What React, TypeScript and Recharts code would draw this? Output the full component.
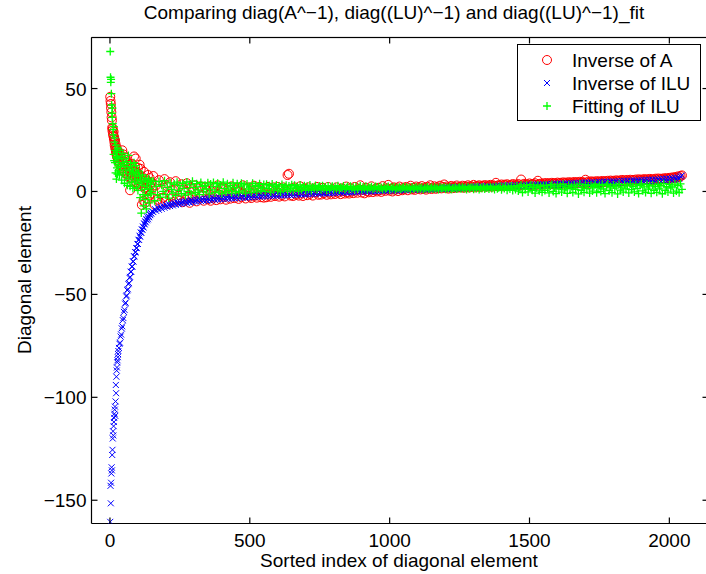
import { ScatterChart, Scatter, XAxis, YAxis, ReferenceLine } from "recharts"

// sorted index of the diagonal element (sampled)
const sortedIndex = [
  1, 2, 3, 4, 5, 6, 7, 8, 9, 10, 11, 12, 13, 14, 15, 16, 17, 18, 19, 20, 21, 22, 23, 24, 25, 26, 27, 28, 29, 30,
  32, 34, 36, 38, 40, 42, 44, 46, 48, 50, 52, 54, 56, 58, 60, 62, 64, 66, 68, 70,
  72, 74, 76, 78, 80, 82, 84, 86, 88, 90, 92, 94, 96, 98, 100, 102, 104, 106, 108, 110,
  112, 114, 116, 118, 120, 122, 124, 126, 128, 130, 132, 134, 136, 138, 140, 142, 144, 146, 148, 150,
  155, 160, 165, 170, 175, 180, 185, 190, 195, 200, 205, 210, 215, 220, 225, 230, 235, 240, 245, 250,
  255, 260, 265, 270, 275, 280, 285, 290, 295, 300, 305, 310, 315, 320, 325, 330, 335, 340, 345, 350,
  355, 360, 365, 370, 375, 380, 385, 390, 395, 400, 405, 410, 415, 420, 425, 430, 435, 440, 445, 450,
  455, 460, 465, 470, 475, 480, 485, 490, 495, 500, 505, 510, 515, 520, 525, 530, 535, 540, 545, 550,
  555, 560, 565, 570, 575, 580, 585, 590, 595, 600, 605, 610, 615, 620, 625, 630, 635, 640, 645, 650,
  655, 660, 665, 670, 675, 680, 685, 690, 695, 700, 705, 710, 715, 720, 725, 730, 735, 740, 745, 750,
  755, 760, 765, 770, 775, 780, 785, 790, 795, 800, 805, 810, 815, 820, 825, 830, 835, 840, 845, 850,
  855, 860, 865, 870, 875, 880, 885, 890, 895, 900, 905, 910, 915, 920, 925, 930, 935, 940, 945, 950,
  955, 960, 965, 970, 975, 980, 985, 990, 995, 1000, 1005, 1010, 1015, 1020, 1025, 1030, 1035, 1040, 1045, 1050,
  1055, 1060, 1065, 1070, 1075, 1080, 1085, 1090, 1095, 1100, 1105, 1110, 1115, 1120, 1125, 1130, 1135, 1140, 1145, 1150,
  1155, 1160, 1165, 1170, 1175, 1180, 1185, 1190, 1195, 1200, 1205, 1210, 1215, 1220, 1225, 1230, 1235, 1240, 1245, 1250,
  1255, 1260, 1265, 1270, 1275, 1280, 1285, 1290, 1295, 1300, 1305, 1310, 1315, 1320, 1325, 1330, 1335, 1340, 1345, 1350,
  1355, 1360, 1365, 1370, 1375, 1380, 1385, 1390, 1395, 1400, 1405, 1410, 1415, 1420, 1425, 1430, 1435, 1440, 1445, 1450,
  1455, 1460, 1465, 1470, 1475, 1480, 1485, 1490, 1495, 1500, 1505, 1510, 1515, 1520, 1525, 1530, 1535, 1540, 1545, 1550,
  1555, 1560, 1565, 1570, 1575, 1580, 1585, 1590, 1595, 1600, 1605, 1610, 1615, 1620, 1625, 1630, 1635, 1640, 1645, 1650,
  1655, 1660, 1665, 1670, 1675, 1680, 1685, 1690, 1695, 1700, 1705, 1710, 1715, 1720, 1725, 1730, 1735, 1740, 1745, 1750,
  1755, 1760, 1765, 1770, 1775, 1780, 1785, 1790, 1795, 1800, 1805, 1810, 1815, 1820, 1825, 1830, 1835, 1840, 1845, 1850,
  1855, 1860, 1865, 1870, 1875, 1880, 1885, 1890, 1895, 1900, 1905, 1910, 1915, 1920, 1925, 1930, 1935, 1940, 1945, 1950,
  1955, 1960, 1965, 1970, 1975, 1980, 1985, 1990, 1995, 2000, 2005, 2010, 2015, 2020, 2025, 2030, 2035, 2040, 2045,
]

// diag(A^-1)
const inverseA = [
  46, 44, 42.5, 40.5, 38.5, 36, 34.5, 31, 29.5, 30.5, 28, 27, 29, 25.5, 26.5, 24, 22.5, 25, 21, 23, 20, 18.5, 21.5, 19, 17, 20, 16.5, 18, 15, 17.5,
  15, 19, 13, 17.5, 11.5, 16, 20, 12.5, 18, 10, 14.5, 9, 16.5, 12, 8.5, 14, 10.5, 7, 13, 9.5,
  0.6, 11, 6.5, 13.5, 8, 5, 10.5, 17, 7, 12, 16, 4.5, 9, 6, 11.5, 3.5, 8, 13, 5, 11,
  2.5, -6.5, 7, 4, -4.5, 9.5, 1.5, -5.5, 6, 2, -3.5, 5, 8, 0.5, -2, 6.5, 3, -1, 4.5, 1.5,
  7.5, -6.5, 3.0, -4.0, 5.5, -5.5, 1.0, -3.0, 6.0, -4.8, 2.5, -6.0, 4.5, -2.0, 0.5, -5.0, 5.0, -3.5, 2.0, -4.5,
  3.5, -5.2, 1.0, -4.0, 4.0, -2.5, -5.5, 2.0, -3.0, 0.0, 3.0, -4.8, 1.5, -3.5, 2.5, -2.0, -4.5, 2.0, 0.5, -3.8,
  2.5, -4.5, 0.5, -3.0, 2.0, -4.2, 3.0, -1.5, -3.8, 1.5, 2.0, -2.5, -4.0, 0.5, 2.0, -3.5, 2.5, -1.0, -3.2, 1.0,
  2.0, -3.6, 0.0, -2.8, 3.0, -1.5, -3.4, 1.5, 2.0, -2.5, -3.2, 0.5, 2.8, -2.0, -3.0, 1.0, 2.2, -2.8, 0.0, -3.0,
  1.5, -2.8, 2.2, -1.5, -2.6, 0.5, 2.0, -2.2, -0.5, 2.2, -2.5, 1.0, -1.8, 2.0, -2.4, 0.0, 8.0, 8.6, -2.0, 1.5,
  -2.2, 2.0, -1.5, 0.5, -2.0, 2.5, -1.0, -2.2, 1.5, 0.0, -1.8, 2.0, -1.2, 0.5, -2.0, 1.0, -0.5, 2.2, -1.6, 0.2,
  -1.5, 1.8, -0.8, 0.5, -1.6, 2.2, -0.5, -1.4, 1.0, 0.0, -1.2, 2.0, -0.6, 0.8, -1.3, 1.5, 0.2, -1.0, 2.4, -0.4,
  -1.0, 1.5, 0.0, -0.8, 2.2, 0.5, -0.6, 1.2, 3.0, -0.5, 0.8, -0.9, 1.8, 0.2, -0.4, 1.0, 2.5, -0.3, 0.6, 1.4,
  0.0, 1.8, 0.6, -0.2, 2.6, 1.0, 0.3, 1.5, 3.2, 0.4, 1.2, 0.0, 2.0, 0.8, 1.6, 0.2, 2.4, 1.0, 0.6, 1.9,
  1.2, 2.2, 0.6, 1.6, 2.8, 1.0, 1.8, 0.8, 2.4, 1.4, 2.0, 1.0, 2.6, 1.3, 1.9, 0.9, 2.3, 1.5, 3.0, 1.2,
  1.8, 2.5, 1.3, 2.1, 1.6, 2.8, 1.5, 2.2, 3.4, 1.7, 2.4, 1.4, 2.0, 2.7, 1.6, 2.3, 1.8, 2.9, 1.9, 2.2,
  2.0, 2.8, 1.8, 2.5, 2.2, 3.0, 1.9, 2.6, 2.3, 3.2, 2.0, 2.7, 2.4, 3.0, 2.1, 2.8, 2.5, 3.1, 2.3, 2.9,
  2.5, 3.2, 2.3, 3.0, 2.7, 4.2, 2.6, 3.1, 2.8, 3.4, 2.5, 3.3, 2.9, 3.5, 2.7, 3.2, 3.0, 3.6, 2.8, 3.4,
  3.0, 3.6, 2.9, 5.8, 3.1, 3.7, 3.0, 3.5, 3.3, 3.9, 3.1, 3.6, 3.4, 4.0, 3.2, 5.2, 3.5, 3.8, 3.3, 4.0,
  3.4, 4.1, 3.6, 4.0, 3.5, 4.2, 3.7, 4.1, 3.6, 4.3, 3.8, 4.2, 3.7, 4.4, 3.9, 4.3, 3.8, 4.5, 4.0, 4.4,
  3.9, 4.6, 4.1, 4.5, 4.0, 4.7, 4.2, 4.6, 4.1, 5.7, 4.3, 4.8, 4.2, 4.9, 4.4, 4.8, 4.3, 5.0, 4.5, 4.9,
  4.5, 5.1, 4.6, 5.0, 4.7, 5.2, 4.6, 5.3, 4.8, 5.2, 4.7, 5.4, 4.9, 5.3, 4.8, 5.6, 5.0, 5.5, 4.9, 5.6,
  5.1, 5.7, 5.2, 5.6, 5.3, 5.8, 5.2, 5.9, 5.4, 5.8, 5.3, 6.0, 5.5, 5.9, 5.4, 6.1, 5.6, 6.0, 5.5, 6.2,
  5.7, 6.3, 5.8, 6.2, 5.9, 6.4, 6.0, 6.5, 6.1, 6.6, 6.2, 6.8, 6.5, 7.0, 6.6, 7.3, 6.9, 7.5, 7.8,
]

// diag((LU)^-1)
const inverseILU = [
  -160.5, -143, -151.5, -141.5, -137, -134, -135.5, -128, -125.5, -120, -116.5, -118.5, -114, -112, -110, -108, -106, -104.5, -109, -102, -94, -98, -90, -87, -85.5, -83, -82, -80.5, -79, -77.5,
  -76, -74, -73.5, -70.5, -69.5, -66.5, -65.5, -62.5, -61.5, -58.5, -57.5, -54.5, -54, -51, -50.5, -48, -47.5, -45, -44.5, -42,
  -41.5, -39, -39, -36.5, -36.5, -34, -34, -31.5, -31.5, -29.5, -29.5, -27.5, -27.5, -25.5, -25.5, -23.5, -23.5, -21.5, -22, -20,
  -20, -18.5, -18.5, -17, -17.5, -15.5, -16, -14.5, -15, -13.5, -14, -12.5, -13.5, -12, -12.5, -11, -11.5, -10.4, -10.8, -9.6,
  -10.0, -8.5, -9.4, -7.9, -8.9, -7.4, -8.4, -6.9, -7.9, -6.5, -7.5, -6.1, -7.1, -5.8, -6.8, -5.5, -6.5, -5.2, -6.2, -5.0,
  -6.0, -4.8, -5.8, -4.6, -5.6, -4.4, -5.4, -4.2, -5.2, -4.0, -5.0, -3.9, -4.8, -3.7, -4.6, -3.6, -4.5, -3.5, -4.4, -3.3,
  -4.3, -3.2, -4.2, -3.1, -4.0, -3.0, -3.9, -2.9, -3.8, -2.8, -3.7, -2.7, -3.6, -2.6, -3.5, -2.5, -3.4, -2.4, -3.3, -2.3,
  -3.2, -2.3, -3.1, -2.2, -3.0, -2.1, -3.0, -2.0, -2.9, -1.9, -2.8, -1.9, -2.7, -1.8, -2.7, -1.7, -2.6, -1.6, -2.5, -1.6,
  -2.4, -1.6, -2.3, -1.6, -2.2, -1.5, -2.2, -1.4, -2.1, -1.4, -2.0, -1.3, -2.0, -1.2, -1.9, -1.2, -1.8, -1.1, -1.8, -1.0,
  -1.7, -1.1, -1.7, -1.0, -1.6, -1.0, -1.5, -0.9, -1.5, -0.8, -1.4, -0.8, -1.3, -0.7, -1.3, -0.6, -1.2, -0.6, -1.1, -0.5,
  -1.1, -0.6, -1.0, -0.5, -1.0, -0.4, -0.9, -0.4, -0.8, -0.3, -0.8, -0.2, -0.7, -0.2, -0.6, -0.1, -0.6, 0.0, -0.5, 0.0,
  -0.5, 0.1, -0.4, 0.1, -0.3, 0.2, -0.3, 0.3, -0.2, 0.3, -0.1, 0.4, -0.1, 0.4, 0.0, 0.5, 0.0, 0.5, 0.1, 0.6,
  0.1, 0.6, 0.2, 0.7, 0.2, 0.7, 0.3, 0.8, 0.3, 0.8, 0.4, 0.9, 0.4, 0.9, 0.5, 1.0, 0.5, 1.0, 0.6, 1.1,
  0.6, 1.1, 0.7, 1.2, 0.7, 1.2, 0.8, 1.3, 0.8, 1.3, 0.9, 1.4, 0.9, 1.4, 1.0, 1.5, 1.0, 1.5, 1.1, 1.6,
  1.0, 1.6, 1.1, 1.7, 1.1, 1.7, 1.2, 1.8, 1.2, 1.8, 1.3, 1.9, 1.3, 1.9, 1.4, 2.0, 1.4, 2.0, 1.5, 2.1,
  1.5, 2.1, 1.6, 2.2, 1.6, 2.2, 1.7, 2.3, 1.7, 2.3, 1.8, 2.4, 1.8, 2.4, 1.9, 2.5, 1.9, 2.5, 2.0, 2.6,
  1.9, 2.6, 2.0, 2.7, 2.0, 2.7, 2.1, 2.8, 2.1, 2.8, 2.2, 2.9, 2.2, 2.9, 2.3, 3.0, 2.3, 3.0, 2.4, 3.1,
  2.3, 3.1, 2.4, 3.2, 2.4, 3.2, 2.5, 3.3, 2.5, 3.3, 2.6, 3.4, 2.6, 3.4, 2.7, 3.5, 2.7, 3.5, 2.8, 3.6,
  2.8, 3.6, 2.9, 3.7, 2.9, 3.7, 3.0, 3.8, 3.0, 3.8, 3.1, 3.9, 3.1, 3.9, 3.2, 4.0, 3.2, 4.0, 3.3, 4.1,
  3.3, 4.1, 3.4, 4.2, 3.4, 4.3, 3.5, 4.3, 3.5, 4.4, 3.6, 4.4, 3.7, 4.5, 3.7, 4.5, 3.8, 4.6, 3.8, 4.7,
  3.9, 4.7, 4.0, 4.8, 4.0, 4.8, 4.1, 4.9, 4.2, 5.0, 4.2, 5.0, 4.3, 5.1, 4.3, 5.1, 4.4, 5.2, 4.5, 5.3,
  4.5, 5.3, 4.6, 5.4, 4.6, 5.4, 4.7, 5.5, 4.8, 5.6, 4.8, 5.6, 4.9, 5.7, 5.0, 5.8, 5.0, 5.8, 5.1, 5.9,
  5.2, 6.0, 5.3, 6.1, 5.3, 6.2, 5.4, 6.3, 5.5, 6.4, 5.6, 6.5, 5.7, 6.7, 5.9, 6.9, 6.2, 7.3, 7.8,
]

// diag((LU)^-1)_fit
const fittingILU = [
  68, 55.5, 53, 54.5, 47.5, 42, 38, 36, 40.5, 33, 30, 27.5, 18, 31.5, 15, 24, 26, 14, 20, 9, 22.5, 16.5, 6, 19, 11.5, 17, 8.5, 21, 13, 10,
  16, 8, 20, 12, 17, 5.5, 14, 18.5, 9, 13, 4, 16, 10.5, 7, 14.5, 3, 12, 17.5, 6, 10,
  2.5, 13.5, 8.5, 4.5, 11, 1.5, 9.5, 14, 5, 7.5, 12.5, 2, 9, 6, 0.5, 10, 4, 7.5, -3, 5.5,
  -10.5, 3, 8, -1.5, -7, 5, 1, -4, 6.5, -8.5, 2.5, 4.5, -2, 6, -5.5, 1.5, 3.5, -1, 5, 0,
  5.0, -4.5, 2.5, -1.5, 4.8, -2.8, 3.0, 0.0, 5.2, -1.5, 2.0, -3.2, 4.2, 1.0, -0.8, 3.5, -2.0, 4.5, 0.5, 2.8,
  -1.0, 4.0, 1.5, -1.8, 4.6, 0.0, 3.2, -1.2, 5.0, 2.0, -0.5, 3.8, 0.8, -1.5, 4.4, 2.5, -0.2, 3.0, 1.2, 4.2,
  -1.2, 3.6, 0.8, 4.4, -0.6, 2.4, 4.0, 0.2, 3.2, -1.0, 4.5, 1.5, -0.3, 3.8, 0.6, 2.8, -0.8, 4.2, 1.8, 0.0,
  3.8, -0.5, 2.6, 4.0, 0.3, 3.2, -0.8, 3.6, 1.2, 2.2, -0.4, 4.0, 0.8, 3.0, -0.2, 2.4, 3.8, 0.5, 1.6, 3.4,
  0.0, 3.5, 1.4, 2.8, -0.3, 3.6, 0.8, 2.2, 3.2, 0.4, 2.6, -0.2, 3.4, 1.0, 2.0, 3.0, 0.2, 2.7, 1.2, 3.3,
  0.4, 3.0, 1.6, 2.4, 0.2, 3.2, 1.0, 2.0, 2.8, 0.6, 2.5, 1.2, 3.1, 0.5, 2.2, 1.5, 2.9, 0.8, 2.0, 2.6,
  0.8, 2.8, 1.4, 2.2, 0.6, 2.7, 1.1, 1.9, 2.5, 0.9, 2.3, 1.3, 2.8, 0.7, 2.0, 1.6, 2.6, 1.0, 1.8, 2.4,
  1.0, 2.5, 1.5, 2.1, 0.8, 2.4, 1.2, 1.9, 2.6, 1.0, 2.2, 1.4, 2.5, 0.9, 2.0, 1.6, 2.3, 1.1, 1.8, 2.4,
  1.1, 2.2, 1.5, 1.9, 0.9, 2.3, 1.3, 1.8, 2.4, 1.0, 2.0, 1.4, 2.2, 1.0, 1.8, 1.5, 2.1, 1.2, 1.7, 2.2,
  1.2, 2.0, 1.5, 1.8, 1.0, 2.2, 1.3, 1.7, 2.1, 1.1, 1.9, 1.4, 2.0, 1.0, 1.8, 1.5, 2.2, 1.2, 1.6, 2.0,
  1.2, 2.1, 1.5, 1.8, 1.0, 2.2, 1.4, 1.7, 2.0, 1.1, 1.9, 1.4, 2.2, 1.0, 1.7, 1.5, 2.1, 1.2, 1.8, 2.0,
  1.3, 2.2, 1.5, 1.9, 1.0, 2.3, 1.4, 1.8, 2.1, 1.1, 2.0, 1.5, 2.3, 1.0, 1.8, 1.4, 2.2, 1.2, 1.7, 2.1,
  1.2, 2.3, 1.4, 2.0, 0.9, 2.4, 1.3, 1.8, 2.5, 0.8, 2.2, 1.4, 2.6, 0.6, 2.0, 1.2, 2.7, 0.5, 2.2, 1.0,
  2.8, 0.2, 2.2, 3.2, -0.5, 2.5, 1.0, 3.0, -0.2, 2.0, 3.3, 0.6, 2.6, -0.8, 1.8, 3.1, 0.3, 2.4, -0.4, 2.9,
  0.5, 3.0, 1.6, -0.7, 2.7, 3.4, 0.0, 2.2, -1.0, 3.2, 1.2, 2.6, -0.3, 3.5, 0.8, 2.0, -0.9, 3.0, 1.5, 2.4,
  -0.5, 3.2, 1.0, 2.5, -1.2, 3.6, 0.6, 2.2, -0.4, 3.3, 1.4, 2.8, -0.8, 3.0, 0.2, 2.4, 3.5, -0.6, 1.8, 2.9,
  0.0, 3.4, 1.2, -1.0, 2.8, 3.6, 0.4, 2.3, -0.6, 3.2, 1.6, 2.6, -1.2, 3.5, 0.7, 2.1, -0.3, 3.3, 1.3, 2.7,
  -0.7, 3.6, 0.9, 2.5, -0.2, 3.3, 1.5, -1.0, 2.9, 3.7, 0.3, 2.2, -0.5, 3.4, 1.1, 2.7, -0.9, 3.1, 0.6, 2.4,
  -0.4, 3.5, 1.3, 2.8, -1.1, 3.8, 0.5, 2.3, -0.3, 3.4, 1.7, 2.6, -0.8, 3.6, 0.2, 2.9, -0.6, 3.7, 1.0,
]

const xTicks = [0, 500, 1000, 1500, 2000]
const yTicks = [-150, -100, -50, 0, 50]
const xDomain = [-66, 2140]
const yDomain = [-161.3, 74.8]

// plot box in pixels (chart margins + axis sizes), half-pixel aligned for crisp lines
const BOX = { left: 91.5, right: 708.5, top: 37.5, bottom: 523.5 }
const CHART_W = 720
const CHART_H = 574

const FONT = "'Liberation Sans', Arial, Helvetica, sans-serif"
const FS = 19
const FRAME = 1.2

const toPoints = (values: number[]) => sortedIndex.map((x, i) => ({ x, y: values[i] }))

const fmt = (v: number) => (v < 0 ? `\u2212${Math.abs(v)}` : `${v}`)

// only used for the box ticks on the top / right edges of the overlay
const px = (v: number) => BOX.left + ((v - xDomain[0]) / (xDomain[1] - xDomain[0])) * (BOX.right - BOX.left)
const py = (v: number) => BOX.top + ((yDomain[1] - v) / (yDomain[1] - yDomain[0])) * (BOX.bottom - BOX.top)

const RedCircle = ({ cx, cy }: any) => <circle cx={cx} cy={cy} r={4.5} fill="none" stroke="#ff0000" strokeWidth={1} />
const BlueCross = ({ cx, cy }: any) => (
  <path d={`M${cx - 3},${cy - 3}L${cx + 3},${cy + 3}M${cx - 3},${cy + 3}L${cx + 3},${cy - 3}`} stroke="#0000ff" strokeWidth={1} />
)
const GreenPlus = ({ cx, cy }: any) => (
  <path d={`M${cx - 4},${cy}L${cx + 4},${cy}M${cx},${cy - 4}L${cx},${cy + 4}`} stroke="#00ff00" strokeWidth={1.3} />
)

// matlab style ticks point into the axes box
const BottomTick = ({ x, y, payload }: any) => (
  <g>
    <line x1={x} y1={y} x2={x} y2={y - 6} stroke="#000" strokeWidth={FRAME} />
    <text x={x} y={y + 23} textAnchor="middle" fontSize={FS} fontFamily={FONT} fill="#000">{fmt(payload.value)}</text>
  </g>
)
const LeftTick = ({ x, y, payload }: any) => (
  <g>
    <line x1={x} y1={y} x2={x + 6} y2={y} stroke="#000" strokeWidth={FRAME} />
    <text x={x - 5} y={y + 7} textAnchor="end" fontSize={FS} fontFamily={FONT} fill="#000">{fmt(payload.value)}</text>
  </g>
)

export default function App() {
  const axisLine = { stroke: "#000", strokeWidth: FRAME }
  return (
    <div style={{ position: "absolute", left: 0, top: 0, width: 706, height: 574, overflow: "hidden", background: "#fff" }}>
      <ScatterChart
        width={CHART_W}
        height={CHART_H}
        margin={{ top: BOX.top, right: CHART_W - BOX.right, bottom: 0, left: 0.5 }}
      >
        <XAxis
          type="number"
          dataKey="x"
          domain={xDomain}
          ticks={xTicks}
          allowDataOverflow
          height={CHART_H - BOX.bottom}
          tickSize={0}
          tickMargin={0}
          tickLine={false}
          axisLine={axisLine}
          tick={<BottomTick />}
        />
        <YAxis
          type="number"
          dataKey="y"
          domain={yDomain}
          ticks={yTicks}
          allowDataOverflow
          width={91}
          tickSize={0}
          tickMargin={0}
          tickLine={false}
          axisLine={axisLine}
          tick={<LeftTick />}
        />
        <Scatter data={toPoints(inverseA)} shape={RedCircle} isAnimationActive={false} />
        <Scatter data={toPoints(inverseILU)} shape={BlueCross} isAnimationActive={false} />
        <Scatter data={toPoints(fittingILU)} shape={GreenPlus} isAnimationActive={false} />
        {/* top and right edges of the axes box */}
        <ReferenceLine y={yDomain[1]} stroke="#000" strokeWidth={FRAME} ifOverflow="visible" />
        <ReferenceLine x={xDomain[1]} stroke="#000" strokeWidth={FRAME} ifOverflow="visible" />
      </ScatterChart>
      <svg width={706} height={574} style={{ position: "absolute", left: 0, top: 0, pointerEvents: "none" }} fontFamily={FONT} fontSize={FS}>
        <rect x={BOX.left} y={BOX.top - 0.6} width={BOX.right - BOX.left} height={1.2} fill="#000" />
        {xTicks.map((t) => (
          <rect key={`tx${t}`} x={px(t) - 0.6} y={BOX.top} width={1.2} height={6} fill="#000" />
        ))}
        {yTicks.map((t) => (
          <rect key={`ty${t}`} x={BOX.right - 6} y={py(t) - 0.6} width={6} height={1.2} fill="#000" />
        ))}
        <text x={394} y={19} textAnchor="middle" fill="#000">Comparing diag(A^{"\u2212"}1), diag((LU)^{"\u2212"}1) and diag((LU)^{"\u2212"}1)_fit</text>
        <text x={399} y={567} textAnchor="middle" fill="#000">Sorted index of diagonal element</text>
        <text x={31} y={280} textAnchor="middle" fill="#000" transform="rotate(-90 31 280)">Diagonal element</text>
        <rect x={517.5} y={44.5} width={183} height={76} fill="#fff" stroke="#000" strokeWidth={1} />
        <RedCircle cx={547} cy={60} />
        <BlueCross cx={547} cy={83} />
        <GreenPlus cx={547} cy={106} />
        <text x={572} y={67} fill="#000">Inverse of A</text>
        <text x={572} y={90} fill="#000">Inverse of ILU</text>
        <text x={572} y={113} fill="#000">Fitting of ILU</text>
      </svg>
    </div>
  )
}
